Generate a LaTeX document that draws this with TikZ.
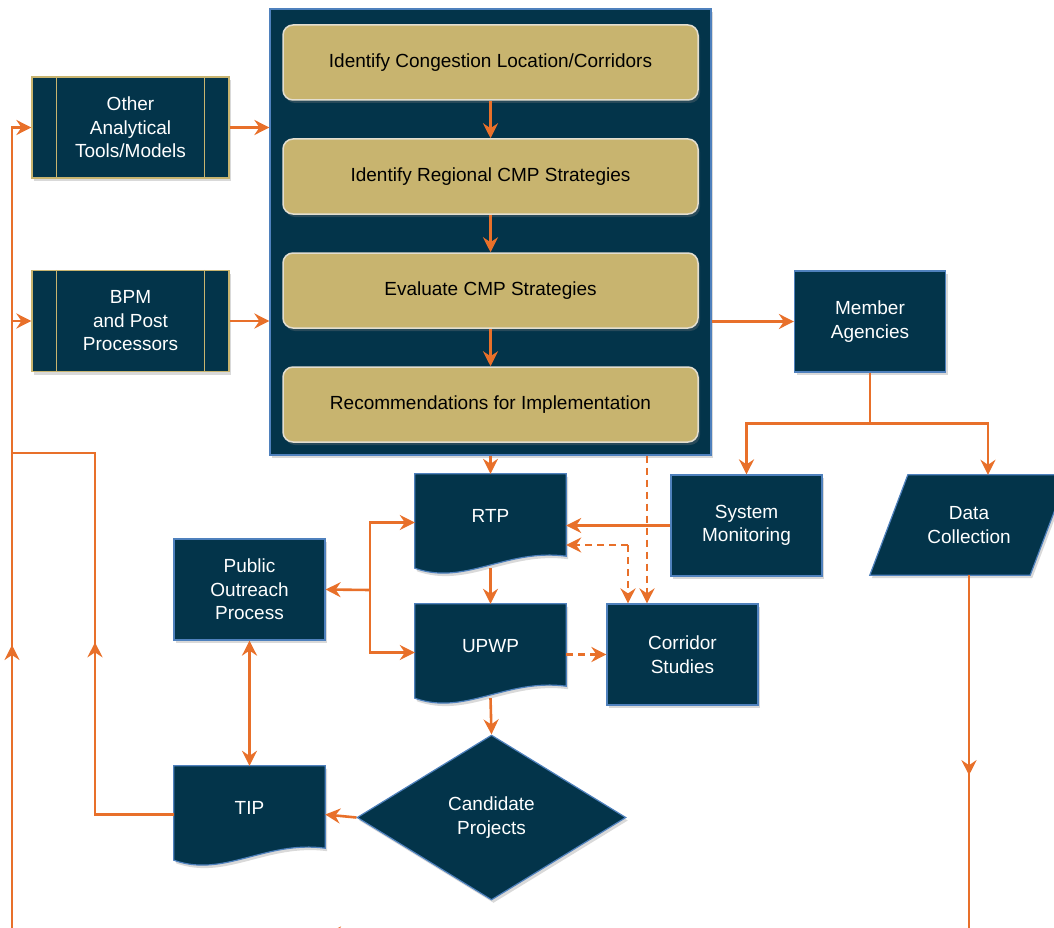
\documentclass[tikz,border=0pt]{standalone}
\usepackage{fontspec}
\setmainfont{Liberation Sans}
\usetikzlibrary{positioning, arrows.meta, shapes.geometric, shadows, backgrounds, decorations.markings}

\definecolor{navy}{HTML}{03344A}
\definecolor{gold}{HTML}{C8B46F}
\definecolor{edgeblue}{HTML}{4F81BD}
\definecolor{flow}{HTML}{E8702A}
\definecolor{paleline}{HTML}{E3DED0}

\tikzset{
  >={Stealth[length=15pt, width=15pt, inset=5pt]},
  base/.style={font=\fontsize{19}{23.5}\selectfont, align=center, inner sep=2pt},
  boxshadow/.style={drop shadow={opacity=0.3, shadow xshift=2pt, shadow yshift=-3pt}},
  panel/.style={rectangle, fill=navy, draw=edgeblue, line width=1.2pt, minimum width=441pt, minimum height=446pt, boxshadow},
  stagebox/.style={base, rectangle, rounded corners=10pt, fill=gold, draw=paleline, line width=1.5pt, minimum width=415pt, minimum height=75pt, boxshadow},
  navybox/.style={base, rectangle, fill=navy, draw=edgeblue, line width=1.2pt, text=white, minimum width=151pt, minimum height=101pt, boxshadow},
  procbox/.style={navybox, draw=gold, minimum width=197pt},
  docbox/.style={font=\fontsize{19}{23.5}\selectfont, rectangle, text=white, minimum width=151pt, minimum height=97pt, text depth=14pt},
  iobox/.style={base, rectangle, text=white, minimum width=198pt, minimum height=100pt},
  decision/.style={base, diamond, fill=navy, draw=edgeblue, line width=1.2pt, text=white, minimum width=269pt, minimum height=165pt, inner sep=0pt, boxshadow},
  outline/.style={fill=navy, draw=edgeblue, line width=1.2pt, boxshadow},
  flowline/.style={color=flow, line width=2.6pt},
  arr/.style={flowline, ->},
  dasharr/.style={arr, dash pattern=on 7pt off 5pt},
  midarrow/.style={postaction={decorate}, decoration={markings, mark=at position #1 with {\arrow{>}}}}
}

% wavy document outline under a docbox node
\newcommand\docshape[1]{%
  \path[outline] (#1.north west) -- (#1.north east)
    -- ([yshift=15pt]#1.south east) .. controls +(-60,-8) and +(50,18) .. ([yshift=3pt]#1.south west) -- cycle;}
% slanted outline under an iobox node
\newcommand\ioshape[1]{%
  \path[outline] ([xshift=38pt]#1.north west) -- (#1.north east)
    -- ([xshift=-38pt]#1.south east) -- (#1.south west) -- cycle;}

\begin{document}
\begin{tikzpicture}[x=1pt, y=-1pt, node distance=37.5pt]
  \useasboundingbox (0,0) rectangle (1054,928);
  \clip (0,0) rectangle (1054,928);

  % CMP process
  \node[panel] (cmp) at (490.5,232) {};
  \node[stagebox] (locate) at (490.5,62.5) {Identify Congestion Location/Corridors};
  \node[stagebox, below=of locate] (strat) {Identify Regional CMP Strategies};
  \node[stagebox, below=of strat] (evalu) {Evaluate CMP Strategies};
  \node[stagebox, below=of evalu] (recom) {Recommendations for Implementation};
  \draw[arr] (locate) -- (strat);
  \draw[arr] (strat) -- (evalu);
  \draw[arr] (evalu) -- (recom);

  % inputs
  \node[procbox] (other) at (130.5,127.5) {Other\\Analytical\\Tools/Models};
  \node[procbox] (bpm) at (130.5,321) {BPM\\and Post\\Processors};
  \foreach \b in {other,bpm} {
    \draw[gold, line width=1.2pt] ([xshift=25pt]\b.north west) -- ([xshift=25pt]\b.south west);
    \draw[gold, line width=1.2pt] ([xshift=-25pt]\b.north east) -- ([xshift=-25pt]\b.south east);
  }

  % outputs
  \node[navybox] (member) at (870,321.5) {Member\\Agencies};
  \node[navybox] (sysmon) at (746.5,525.5) {System\\Monitoring};
  \node[iobox] (data) at (969,525) {Data\\Collection};
  \node[docbox] (rtp) at (490.5,522.5) {RTP};
  \node[docbox] (upwp) at (490.5,652.5) {UPWP};
  \node[docbox] (tip) at (249.5,814.5) {TIP};
  \node[navybox] (outreach) at (249.5,589.5) {Public\\Outreach\\Process};
  \node[navybox] (corr) at (682.5,654.5) {Corridor\\Studies};
  \node[decision] (cand) at (491.5,817.5) {Candidate\\Projects};
  \begin{scope}[on background layer]
    \foreach \d in {rtp,upwp,tip} {\docshape{\d}}
    \ioshape{data}
  \end{scope}

  \coordinate (split) at (370,590);
  \coordinate (dashsplit) at (628,545);
  \coordinate (dashtop) at ([xshift=156.5pt]cmp.south);
  \coordinate (feed) at (12,945);
  \coordinate (tipturn) at (95,453);
  \coordinate (offpage) at (420,934);
  \coordinate (offtip) at (326,934);

  \draw[arr] (other.east) -- (other.east -| cmp.west);
  \draw[arr] (bpm.east) -- (bpm.east -| cmp.west);
  \draw[arr] (cmp.east |- member.west) -- (member.west);
  \draw[arr] (member.south) -- ++(0,51) -| (sysmon.north);
  \draw[arr] (member.south) -- ++(0,51) -| ([xshift=19pt]data.north);
  \draw[arr] (cmp.south) -- (rtp.north);
  \draw[arr] ([yshift=3pt]rtp.south) -- (upwp.north);
  \draw[arr] ([yshift=3pt]upwp.south) -- (cand.north);
  \draw[arr] (cand.west) -- (tip.east);
  \draw[arr] (sysmon.west) -- (sysmon.west -| rtp.east);
  \draw[arr] (split) -- (outreach.east);
  \draw[arr] (split) |- (rtp.west);
  \draw[arr] (split) |- (upwp.west);
  \draw[arr, <->] (outreach.south) -- (tip.north);
  \draw[dasharr] (dashsplit) -- (dashsplit -| rtp.east);
  \draw[dasharr] (dashsplit) -- (dashsplit |- corr.north);
  \draw[dasharr] (dashtop) -- (dashtop |- corr.north);
  \draw[dasharr] (corr.west -| upwp.east) -- (corr.west);

  % feedback loop
  \draw[flowline, midarrow=251pt] (tip.west) -| (tipturn) -- (tipturn -| feed);
  \draw[arr, midarrow=300pt] (feed) |- (other.west);
  \draw[arr] (feed |- bpm.west) -- (bpm.west);
  \draw[flowline, midarrow=200pt] (data.south) -- (data.south |- feed);
  \draw[arr] (offpage) -- (offtip);
\end{tikzpicture}
\end{document}
